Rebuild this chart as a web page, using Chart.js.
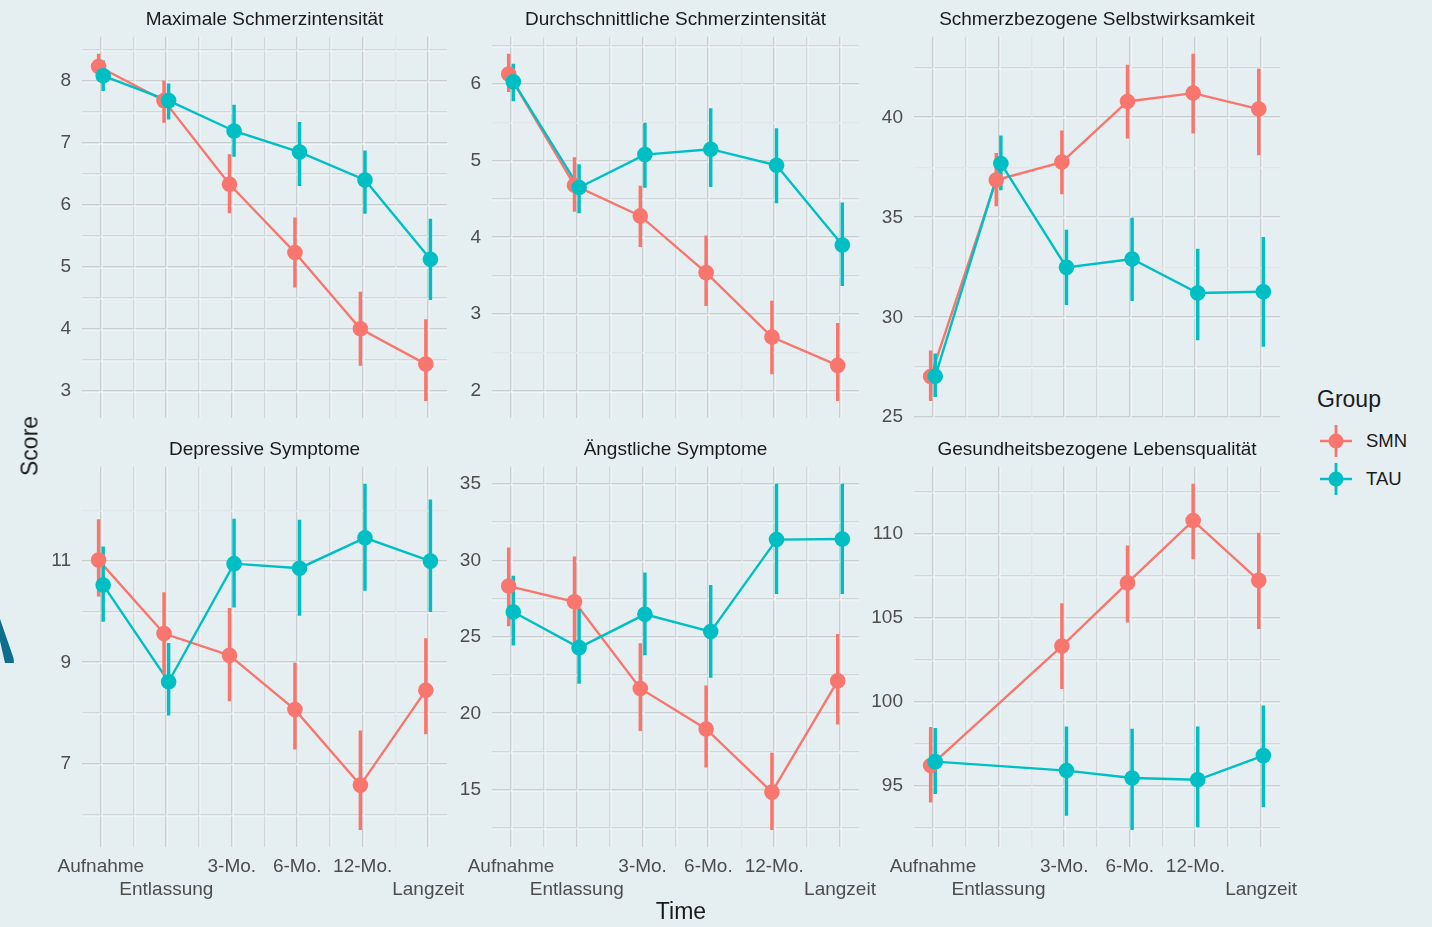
<!DOCTYPE html>
<html lang="de">
<head>
<meta charset="utf-8">
<title>Verlauf der Outcomes nach Gruppe</title>
<script src="https://cdn.jsdelivr.net/npm/chart.js@4.4.1/dist/chart.umd.min.js"></script>
<style>
  html, body { margin: 0; padding: 0; background: #e5eff2; }
  body { width: 1432px; height: 927px; position: relative; overflow: hidden;
         font-family: 'Liberation Sans', Arial, sans-serif; color: #1a1a1a; }
  canvas { position: absolute; }
  .lbl { position: absolute; line-height: 1; white-space: nowrap; transform: translateY(-50%); }
  #xTitle { left: 681px; top: 911px; font-size: 23px; transform: translate(-50%, -50%); }
  #yTitle { left: 30px; top: 446px; font-size: 23px; transform: translate(-50%, -50%) rotate(-90deg); }
  #legendTitle { left: 1317px; top: 399px; font-size: 23px; }
  .legItem { position: absolute; left: 1316px; width: 120px; height: 40px; transform: translateY(-50%); }
  .legItem svg { position: absolute; left: 0; top: 0; }
  .legItem span { position: absolute; left: 50px; top: 20px; font-size: 18.5px; line-height: 1; transform: translateY(-50%); }
  #mark { position: absolute; left: 0; top: 600px; }
</style>
</head>
<body>
<svg id="mark" width="20" height="70"><polygon points="0,19 13.5,58 14,63 5,63 0,41" fill="#0e6e8e"/></svg>

<script>
// ---- Messzeitpunkte und Gruppen ----
const timeTickLabels = ['Aufnahme', '\nEntlassung', '3-Mo.', '6-Mo.', '12-Mo.', '\nLangzeit'];
const timeIndex = [1, 2, 3, 4, 5, 6];
const groupNames = ['SMN', 'TAU'];

// Maximale Schmerzintensität
const maxSmnMean = [8.23, 7.68, 6.33, 5.23, 4.00, 3.43];
const maxSmnLow  = [8.03, 7.33, 5.87, 4.67, 3.41, 2.84];
const maxSmnHigh = [8.43, 8.00, 6.81, 5.79, 4.59, 4.15];
const maxTauMean = [8.08, 7.68, 7.19, 6.85, 6.40, 5.12];
const maxTauLow  = [7.84, 7.38, 6.78, 6.31, 5.86, 4.47];
const maxTauHigh = [8.32, 7.95, 7.61, 7.33, 6.87, 5.77];
const maxTicks   = [3, 4, 5, 6, 7, 8];

// Durchschnittliche Schmerzintensität
const avgSmnMean = [6.13, 4.68, 4.28, 3.54, 2.70, 2.33];
const avgSmnLow  = [5.90, 4.34, 3.88, 3.11, 2.22, 1.87];
const avgSmnHigh = [6.39, 5.04, 4.67, 4.02, 3.17, 2.88];
const avgTauMean = [6.03, 4.65, 5.08, 5.15, 4.94, 3.90];
const avgTauLow  = [5.78, 4.32, 4.65, 4.66, 4.45, 3.37];
const avgTauHigh = [6.26, 4.95, 5.49, 5.68, 5.42, 4.45];
const avgTicks   = [2, 3, 4, 5, 6];

// Schmerzbezogene Selbstwirksamkeit
const effSmnMean = [27.04, 36.87, 37.77, 40.80, 41.22, 40.42];
const effSmnLow  = [25.83, 35.58, 36.17, 38.97, 39.22, 38.13];
const effSmnHigh = [28.33, 38.20, 39.33, 42.62, 43.17, 42.42];
const effTauMean = [27.05, 37.70, 32.50, 32.92, 31.22, 31.28];
const effTauLow  = [26.03, 36.37, 30.63, 30.83, 28.87, 28.55];
const effTauHigh = [28.17, 39.08, 34.37, 34.97, 33.42, 34.00];
const effTicks   = [25, 30, 35, 40];

// Depressive Symptome
const depSmnMean = [11.02, 9.57, 9.14, 8.07, 6.58, 8.45];
const depSmnLow  = [10.31, 8.77, 8.24, 7.29, 5.70, 7.59];
const depSmnHigh = [11.82, 10.38, 10.07, 8.99, 7.65, 9.47];
const depTauMean = [10.53, 8.62, 10.95, 10.86, 11.46, 11.00];
const depTauLow  = [9.81, 7.96, 10.09, 9.93, 10.42, 10.00];
const depTauHigh = [11.28, 9.38, 11.83, 11.81, 12.52, 12.21];
const depTicks   = [7, 9, 11];

// Ängstliche Symptome
const anxSmnMean = [28.33, 27.30, 21.63, 18.98, 14.85, 22.13];
const anxSmnLow  = [25.72, 24.41, 18.87, 16.48, 12.39, 19.30];
const anxSmnHigh = [30.83, 30.24, 24.57, 21.80, 17.41, 25.17];
const anxTauMean = [26.63, 24.30, 26.48, 25.35, 31.37, 31.41];
const anxTauLow  = [24.46, 21.96, 23.83, 22.35, 27.83, 27.83];
const anxTauHigh = [28.98, 26.80, 29.20, 28.37, 35.00, 35.00];
const anxTicks   = [15, 20, 25, 30, 35];

// Gesundheitsbezogene Lebensqualität (bei Entlassung nicht erhoben)
const qolSmnMean = [96.21, null, 103.32, 107.08, 110.79, 107.23];
const qolSmnLow  = [94.03, null, 100.79, 104.74, 108.50, 104.35];
const qolSmnHigh = [98.48, null, 105.85, 109.29, 112.96, 110.04];
const qolTauMean = [96.44, null, 95.91, 95.47, 95.36, 96.80];
const qolTauLow  = [94.53, null, 93.24, 92.39, 92.55, 93.74];
const qolTauHigh = [98.42, null, 98.52, 98.38, 98.52, 99.76];
const qolTicks   = [95, 100, 105, 110];

const panels = [
  { title: 'Maximale Schmerzintensität',        smn: [maxSmnMean, maxSmnLow, maxSmnHigh], tau: [maxTauMean, maxTauLow, maxTauHigh], ticks: maxTicks },
  { title: 'Durchschnittliche Schmerzintensität', smn: [avgSmnMean, avgSmnLow, avgSmnHigh], tau: [avgTauMean, avgTauLow, avgTauHigh], ticks: avgTicks },
  { title: 'Schmerzbezogene Selbstwirksamkeit', smn: [effSmnMean, effSmnLow, effSmnHigh], tau: [effTauMean, effTauLow, effTauHigh], ticks: effTicks },
  { title: 'Depressive Symptome',               smn: [depSmnMean, depSmnLow, depSmnHigh], tau: [depTauMean, depTauLow, depTauHigh], ticks: depTicks },
  { title: 'Ängstliche Symptome',               smn: [anxSmnMean, anxSmnLow, anxSmnHigh], tau: [anxTauMean, anxTauLow, anxTauHigh], ticks: anxTicks },
  { title: 'Gesundheitsbezogene Lebensqualität', smn: [qolSmnMean, qolSmnLow, qolSmnHigh], tau: [qolTauMean, qolTauLow, qolTauHigh], ticks: qolTicks }
];

// ---- Darstellung ----
const FONT = "'Liberation Sans', Arial, sans-serif";
const COLORS = { SMN: '#F8766D', TAU: '#00BFC4' };
const DODGE = 0.035;
const TEXT_SIZE = 19;

// canvas placement: column lefts / y-axis widths, row tops
const colLayout = [
  { left: 0,   axisW: 82, width: 477 },
  { left: 420, axisW: 72, width: 469 },
  { left: 840, axisW: 74, width: 470 }
];
const rowLayout = [
  { top: 0,   height: 441, xAxisH: 0,  padBottom: 23, labels: false },
  { top: 430, height: 477, xAxisH: 60, padBottom: 0,  labels: true }
];

Chart.defaults.font.family = FONT;
Chart.defaults.animation = false;

function paddedRange(values) {
  const v = values.filter(x => x !== null && x !== undefined);
  const lo = Math.min(...v), hi = Math.max(...v);
  const pad = (hi - lo) * 0.05;
  return [lo - pad, hi + pad];
}

// major breaks plus half-way minor breaks inside the range
function gridValues(major, lo, hi) {
  const half = (major[1] - major[0]) / 2;
  const out = [];
  let v = major[0] - Math.ceil((major[0] - lo) / half) * half;
  for (; v <= hi + 1e-9; v += half) {
    if (v >= lo - 1e-9) out.push(+v.toFixed(6));
  }
  return out;
}
const isMajor = (major, v) => major.some(m => Math.abs(m - v) < 1e-6);

const gridHighlight = {
  id: 'gridHighlight',
  beforeDatasetsDraw(chart) {
    const { ctx, chartArea: a } = chart;
    ctx.save();
    ctx.beginPath();
    ctx.rect(a.left, a.top, a.right - a.left, a.bottom - a.top);
    ctx.clip();
    ctx.strokeStyle = 'rgba(250,252,252,0.95)';
    ['x', 'y'].forEach(id => {
      const s = chart.scales[id];
      const majors = s.options.majorValues;
      s.ticks.forEach(t => {
        const p = Math.round(s.getPixelForValue(t.value)) + 1;
        ctx.lineWidth = isMajor(majors, t.value) ? 1.1 : 0.8;
        ctx.beginPath();
        if (id === 'x') { ctx.moveTo(p, a.top); ctx.lineTo(p, a.bottom); }
        else { ctx.moveTo(a.left, p); ctx.lineTo(a.right, p); }
        ctx.stroke();
      });
    });
    ctx.restore();
  }
};

function groupDatasets(name, series, offset) {
  const [mean, low, high] = series;
  const line = [], bars = [];
  timeIndex.forEach((t, i) => {
    if (mean[i] === null) return;
    line.push({ x: t + offset, y: mean[i] });
    bars.push({ x: t + offset, y: [low[i], high[i]] });
  });
  const c = COLORS[name];
  return {
    line: { type: 'line', label: name, data: line, borderColor: c, borderWidth: 2.4,
            pointRadius: 0, pointHoverRadius: 0, fill: false, tension: 0 },
    bars: { type: 'bar', label: name, data: bars, backgroundColor: c, borderWidth: 0,
            barThickness: 2.8, grouped: false },
    points: { type: 'line', label: name, data: line, showLine: false, pointRadius: 7.8,
              pointHoverRadius: 7.8, pointBackgroundColor: c, pointBorderWidth: 0, borderColor: c }
  };
}

const xMajor = timeIndex;
const [xMin, xMax] = paddedRange([timeIndex[0] - DODGE, timeIndex[timeIndex.length - 1] + DODGE]);
const xGrid = gridValues(xMajor, xMin, xMax);

panels.forEach((p, k) => {
  const col = colLayout[k % 3], row = rowLayout[Math.floor(k / 3)];
  const canvas = document.createElement('canvas');
  canvas.width = col.width; canvas.height = row.height;
  canvas.style.left = col.left + 'px'; canvas.style.top = row.top + 'px';
  canvas.style.width = col.width + 'px'; canvas.style.height = row.height + 'px';
  document.body.appendChild(canvas);

  const [yMin, yMax] = paddedRange([...p.smn[1], ...p.smn[2], ...p.tau[1], ...p.tau[2]]);
  const yGrid = gridValues(p.ticks, yMin, yMax);

  const s = groupDatasets('SMN', p.smn, -DODGE);
  const t = groupDatasets('TAU', p.tau, DODGE);
  s.line.order = 6; t.line.order = 5; s.bars.order = 4; t.bars.order = 3; s.points.order = 2; t.points.order = 1;

  const gridStyle = majors => ({
    display: true, drawTicks: false,
    color: ctx => isMajor(majors, ctx.tick.value) ? '#c9cfd1' : '#d1d7d9',
    lineWidth: ctx => isMajor(majors, ctx.tick.value) ? 2 : 1.6
  });

  new Chart(canvas, {
    type: 'line',
    data: { datasets: [s.line, t.line, s.bars, t.bars, s.points, t.points] },
    options: {
      responsive: false,
      devicePixelRatio: 1,
      events: [],
      layout: { padding: { left: 0, right: 30, top: 0, bottom: row.padBottom } },
      plugins: {
        legend: { display: false },
        tooltip: { enabled: false },
        title: {
          display: true, text: p.title, fullSize: false, color: '#1a1a1a',
          font: { family: FONT, size: TEXT_SIZE, weight: 'normal', lineHeight: 1.2 },
          padding: { top: 8, bottom: 6 }
        }
      },
      scales: {
        x: {
          type: 'linear', min: xMin, max: xMax, offset: false, bounds: 'data',
          majorValues: xMajor,
          grid: Object.assign(gridStyle(xMajor), { offset: false }),
          border: { display: false },
          afterBuildTicks: sc => { sc.ticks = xGrid.map(v => ({ value: v })); },
          afterFit: sc => { sc.height = row.xAxisH; },
          ticks: {
            display: row.labels, autoSkip: false, maxRotation: 0, minRotation: 0, padding: 9,
            color: '#4d4d4d', font: { family: FONT, size: TEXT_SIZE, lineHeight: 1.17 },
            callback: v => Number.isInteger(v) ? timeTickLabels[v - 1].split('\n') : ''
          }
        },
        y: {
          type: 'linear', min: yMin, max: yMax, beginAtZero: false, bounds: 'data',
          majorValues: p.ticks,
          grid: gridStyle(p.ticks),
          border: { display: false },
          afterBuildTicks: sc => { sc.ticks = yGrid.map(v => ({ value: v })); },
          afterFit: sc => { sc.width = col.axisW; },
          ticks: {
            autoSkip: false, padding: 11, color: '#4d4d4d',
            font: { family: FONT, size: TEXT_SIZE },
            callback: v => isMajor(p.ticks, v) ? String(v) : ''
          }
        }
      }
    },
    plugins: [gridHighlight]
  });
});

// ---- Achsentitel und Legende ----
function addText(id, text) {
  const d = document.createElement('div');
  d.id = id; d.className = 'lbl'; d.textContent = text;
  document.body.appendChild(d);
}
addText('xTitle', 'Time');
addText('yTitle', 'Score');
addText('legendTitle', 'Group');

const legendCenters = [441, 479];
groupNames.forEach((g, i) => {
  const item = document.createElement('div');
  item.className = 'legItem';
  item.style.top = legendCenters[i] + 'px';
  const c = COLORS[g];
  item.innerHTML =
    '<svg width="40" height="40">' +
    '<line x1="4" y1="20" x2="36" y2="20" stroke="' + c + '" stroke-width="2.5"/>' +
    '<line x1="20" y1="4" x2="20" y2="36" stroke="' + c + '" stroke-width="2.8"/>' +
    '<circle cx="20" cy="20" r="7.5" fill="' + c + '"/></svg>' +
    '<span>' + g + '</span>';
  document.body.appendChild(item);
});
</script>
</body>
</html>
